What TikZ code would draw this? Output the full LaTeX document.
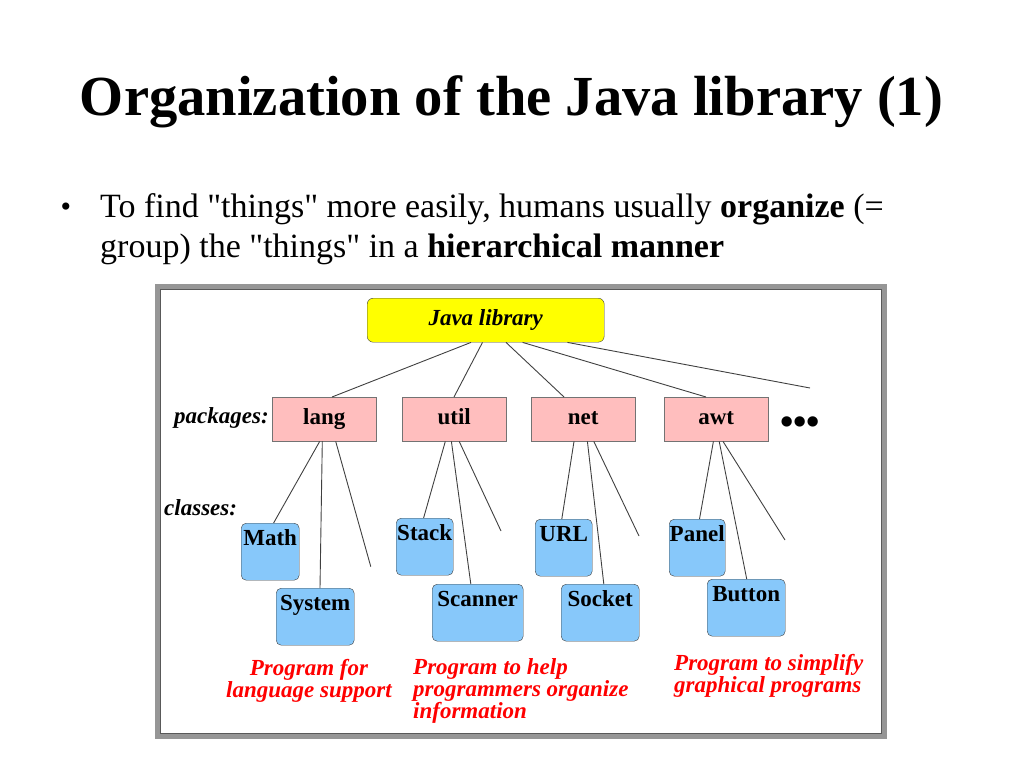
\documentclass[tikz,border=0pt]{standalone}
\usepackage{fontspec}
\setmainfont{Liberation Serif}
\usetikzlibrary{positioning}
\definecolor{libyellow}{RGB}{255,255,0}
\definecolor{pkgpink}{RGB}{255,190,190}
\definecolor{clsblue}{RGB}{135,200,250}
\definecolor{framegray}{RGB}{150,150,150}
\tikzset{
  libbox/.style={draw=black!75, fill=libyellow, rounded corners=6pt, minimum width=237pt, minimum height=44pt, anchor=north west, font=\fontsize{23}{23}\selectfont\bfseries\itshape, text height=16pt, text depth=5pt},
  pkgbox/.style={draw=black!55, fill=pkgpink, minimum width=104pt, minimum height=44pt, anchor=north west, font=\fontsize{23}{23}\selectfont\bfseries, text height=16pt, text depth=5pt},
  clsbox/.style={draw=black!75, fill=clsblue, rounded corners=5pt, inner sep=0pt, anchor=north west, text height=22pt, text depth=35pt, font=\fontsize{23}{23}\selectfont\bfseries},
  branch/.style={draw=black!75, line width=0.9pt},
  tag/.style={inner sep=0pt, anchor=base west, font=\fontsize{23}{23}\selectfont\bfseries\itshape},
  note/.style={red, inner sep=0pt, font=\fontsize{23}{22}\selectfont\bfseries\itshape}
}
\newcommand{\qt}{\textquotedbl}

\begin{document}
\begin{tikzpicture}[x=1pt, y=-1pt]
  \useasboundingbox (0,0) rectangle (1024,768);
  \node[anchor=base] (title) at (511.5,115) {\fontsize{56.6}{60}\selectfont\bfseries Organization of the Java library (1)};
  \node[anchor=base, inner sep=0pt] (dot) at (66,216) {\fontsize{30}{30}\selectfont\textbullet};
  \node[anchor=base west, inner sep=0pt, font=\fontsize{34}{40}\selectfont] (line1) at (100,217) {To find \qt things\qt{} more easily, humans usually \textbf{organize} (=};
  \node[anchor=base west, inner sep=0pt, font=\fontsize{34}{40}\selectfont] (line2) at (100,257) {group) the \qt things\qt{} in a \textbf{hierarchical manner}};

  % frame of the figure
  \draw[framegray, line width=5pt] (157.5,286.5) rectangle (884.5,736.5);
  \draw[black!65, line width=1pt] (160.5,289.5) rectangle (881.5,733.5);

  \node[libbox] (java) at (367,298) {Java library};
  \node[tag] (packages) at (174,423) {packages:};
  \node[pkgbox] (lang) at (272,397) {lang};
  \node[pkgbox] (util) at (402,397) {util};
  \node[pkgbox] (net) at (531,397) {net};
  \node[pkgbox] (awt) at (664,397) {awt};
  \node[anchor=base west, inner sep=0pt] (more) at (780,434) {\fontsize{38}{38}\selectfont\bfseries\textbullet\textbullet\textbullet};
  \coordinate (moreend) at (810,388);

  \node[tag] (classes) at (164,515) {classes:};
  \node[clsbox, minimum width=58pt] (math) at (241,523) {Math};
  \node[clsbox, minimum width=78pt] (system) at (276,588) {System};
  \node[clsbox, minimum width=57pt] (stack) at (396,518) {Stack};
  \node[clsbox, minimum width=91pt] (scanner) at (432,584) {Scanner};
  \node[clsbox, minimum width=57pt] (url) at (535,519) {URL};
  \node[clsbox, minimum width=78pt] (socket) at (561,584) {Socket};
  \node[clsbox, minimum width=56pt] (panel) at (669,519) {Panel};
  \node[clsbox, minimum width=78pt] (button) at (707,579) {Button};
  \coordinate (langend) at (370.8,566.7);
  \coordinate (utilend) at (501,531);
  \coordinate (netend) at (639,536);
  \coordinate (awtend) at (785,540);

  \foreach \a/\p/\b in {104/lang/60, 115.5/util/52, 139/net/33, 155.6/awt/42}
    \draw[branch] ([xshift=\a]java.south west) -- ([xshift=\b]\p.north west);
  \draw[branch] ([xshift=200.5]java.south west) -- (moreend);

  \foreach \p/\a/\c/\b in {lang/47.7/math/32.6, lang/50.3/system/44, util/43.3/stack/27.6, util/49.4/scanner/38.8,
      net/43/url/26.8, net/56.4/socket/42.8, awt/49.4/panel/30.5, awt/55.2/button/39.7}
    \draw[branch] ([xshift=\a]\p.south west) -- ([xshift=\b]\c.north west);
  \foreach \p/\a in {lang/63.7, util/57.2, net/62.8, awt/59}
    \draw[branch] ([xshift=\a]\p.south west) -- (\p end);

  % notes: base is the last line
  \node[note, anchor=base, align=center] (langnote) at (309,697) {Program for\\language support};
  \node[note, anchor=base west, align=left] (utilnote) at (413,718) {Program to help\\programmers organize\\information};
  \node[note, anchor=base west, align=left] (awtnote) at (674,692) {Program to simplify\\graphical programs};
\end{tikzpicture}
\end{document}
